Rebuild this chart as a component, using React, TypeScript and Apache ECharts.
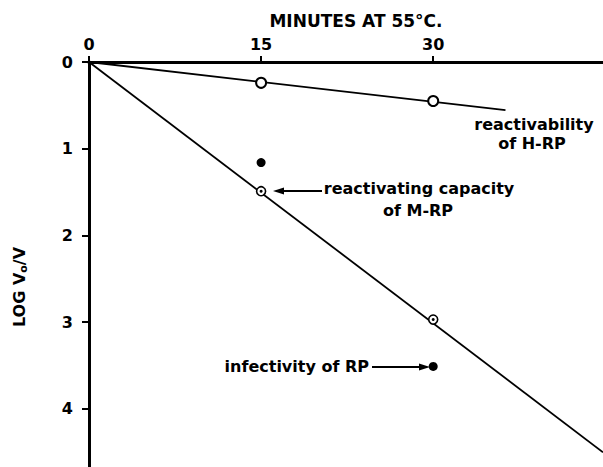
import React, { useEffect, useRef } from "react";
import * as echarts from "echarts";

// Tick labels
const xTickLabels = [0, 15, 30];
const yTickLabels = [0, 1, 2, 3, 4];

// Measured points (minutes at 55 °C vs log V0/V)
const minutes = [15, 30];
const hrpReactivability = [0.24, 0.45];
const mrpCapacity = [1.49, 2.97];
const rpInfectivity = [1.16, 3.51];

// Fitted lines
const hrpFitX = [0, 36.3];
const hrpFitY = [0, 0.555];
const mrpFitX = [0, 44.8];
const mrpFitY = [0, 4.5];

const FONT_FAMILY = '"DejaVu Sans", Verdana, sans-serif';

const pairs = (xs: number[], ys: number[]) => xs.map((x, i) => [x, ys[i]]);

export default function App() {
  const ref = useRef<HTMLDivElement>(null);

  useEffect(() => {
    document.body.style.margin = "0";
    if (!ref.current) return;
    const chart = echarts.init(ref.current, undefined, { renderer: "svg" });

    const txt = (text: string, x: number, y: number, align = "center", size = 16) => ({
      type: "text",
      x,
      y,
      z: 10,
      style: {
        text,
        fontFamily: FONT_FAMILY,
        fontWeight: "bold",
        fontSize: size,
        fill: "#000",
        align,
        verticalAlign: "middle",
      },
    });

    const option: any = {
      animation: false,
      backgroundColor: "#fff",
      grid: { left: 89, top: 62, right: 0, bottom: 0, containLabel: false },
      xAxis: {
        type: "value",
        position: "top",
        min: 0,
        max: 44.8,
        interval: 15,
        axisLine: { show: true, onZero: false, lineStyle: { color: "#000", width: 3 } },
        axisTick: { show: true, length: 6, lineStyle: { color: "#000", width: 2 } },
        splitLine: { show: false },
        axisLabel: {
          margin: 10,
          color: "#000",
          fontFamily: FONT_FAMILY,
          fontWeight: "bold",
          fontSize: 16,
          showMaxLabel: false,
          formatter: (v: number) => (xTickLabels.includes(v) ? String(v) : ""),
        },
      },
      yAxis: {
        type: "value",
        inverse: true,
        position: "left",
        min: 0,
        max: 4.67,
        interval: 1,
        axisLine: { show: true, onZero: false, lineStyle: { color: "#000", width: 3 } },
        axisTick: { show: true, length: 7, lineStyle: { color: "#000", width: 2 } },
        splitLine: { show: false },
        axisLabel: {
          margin: 16,
          color: "#000",
          fontFamily: FONT_FAMILY,
          fontWeight: "bold",
          fontSize: 16,
          showMaxLabel: false,
          formatter: (v: number) => (yTickLabels.includes(v) ? String(v) : ""),
        },
      },
      graphic: [
        txt("MINUTES AT 55°C.", 356, 21, "center", 17),
        {
          type: "text",
          x: 19,
          y: 287,
          rotation: Math.PI / 2,
          z: 10,
          style: {
            text: "{m|LOG V}{s|o}{m|/V}",
            align: "center",
            verticalAlign: "middle",
            rich: {
              m: {
                fontFamily: FONT_FAMILY,
                fontWeight: "bold",
                fontSize: 16,
                fill: "#000",
                lineHeight: 20,
                verticalAlign: "middle",
              },
              s: {
                fontFamily: FONT_FAMILY,
                fontWeight: "bold",
                fontSize: 11,
                fill: "#000",
                lineHeight: 20,
                verticalAlign: "bottom",
              },
            },
          },
        },
        txt("reactivability", 534, 124),
        txt("of H-RP", 532, 143),
        txt("reactivating capacity", 419, 188),
        txt("of M-RP", 418, 210),
        txt("infectivity of RP", 369, 366, "right"),
        {
          type: "line",
          z: 10,
          shape: { x1: 281, y1: 191, x2: 322, y2: 191 },
          style: { stroke: "#000", lineWidth: 2 },
        },
        {
          type: "polygon",
          z: 10,
          shape: { points: [[273, 191], [284, 187.5], [284, 194.5]] },
          style: { fill: "#000" },
        },
        {
          type: "line",
          z: 10,
          shape: { x1: 372, y1: 367, x2: 421, y2: 367 },
          style: { stroke: "#000", lineWidth: 2 },
        },
        {
          type: "polygon",
          z: 10,
          shape: { points: [[430, 367], [419, 363.5], [419, 370.5]] },
          style: { fill: "#000" },
        },
      ],
      series: [
        {
          type: "line",
          data: pairs(hrpFitX, hrpFitY),
          showSymbol: false,
          lineStyle: { color: "#000", width: 1.8 },
          z: 2,
        },
        {
          type: "line",
          data: pairs(mrpFitX, mrpFitY),
          showSymbol: false,
          lineStyle: { color: "#000", width: 1.8 },
          z: 2,
        },
        {
          type: "scatter",
          data: pairs(minutes, hrpReactivability),
          symbol: "circle",
          symbolSize: 10,
          itemStyle: { color: "#fff", borderColor: "#000", borderWidth: 2, opacity: 1 },
          z: 5,
        },
        {
          type: "scatter",
          data: pairs(minutes, mrpCapacity),
          symbol: "circle",
          symbolSize: 9,
          itemStyle: { color: "#fff", borderColor: "#000", borderWidth: 1.6, opacity: 1 },
          z: 5,
        },
        {
          type: "scatter",
          data: pairs(minutes, mrpCapacity),
          symbol: "circle",
          symbolSize: 3,
          itemStyle: { color: "#000", opacity: 1 },
          z: 6,
        },
        {
          type: "scatter",
          data: pairs(minutes, rpInfectivity),
          symbol: "circle",
          symbolSize: 9,
          itemStyle: { color: "#000", opacity: 1 },
          z: 5,
        },
      ],
    };

    chart.setOption(option);
    return () => chart.dispose();
  }, []);

  return <div ref={ref} style={{ width: 603, height: 467 }} />;
}
